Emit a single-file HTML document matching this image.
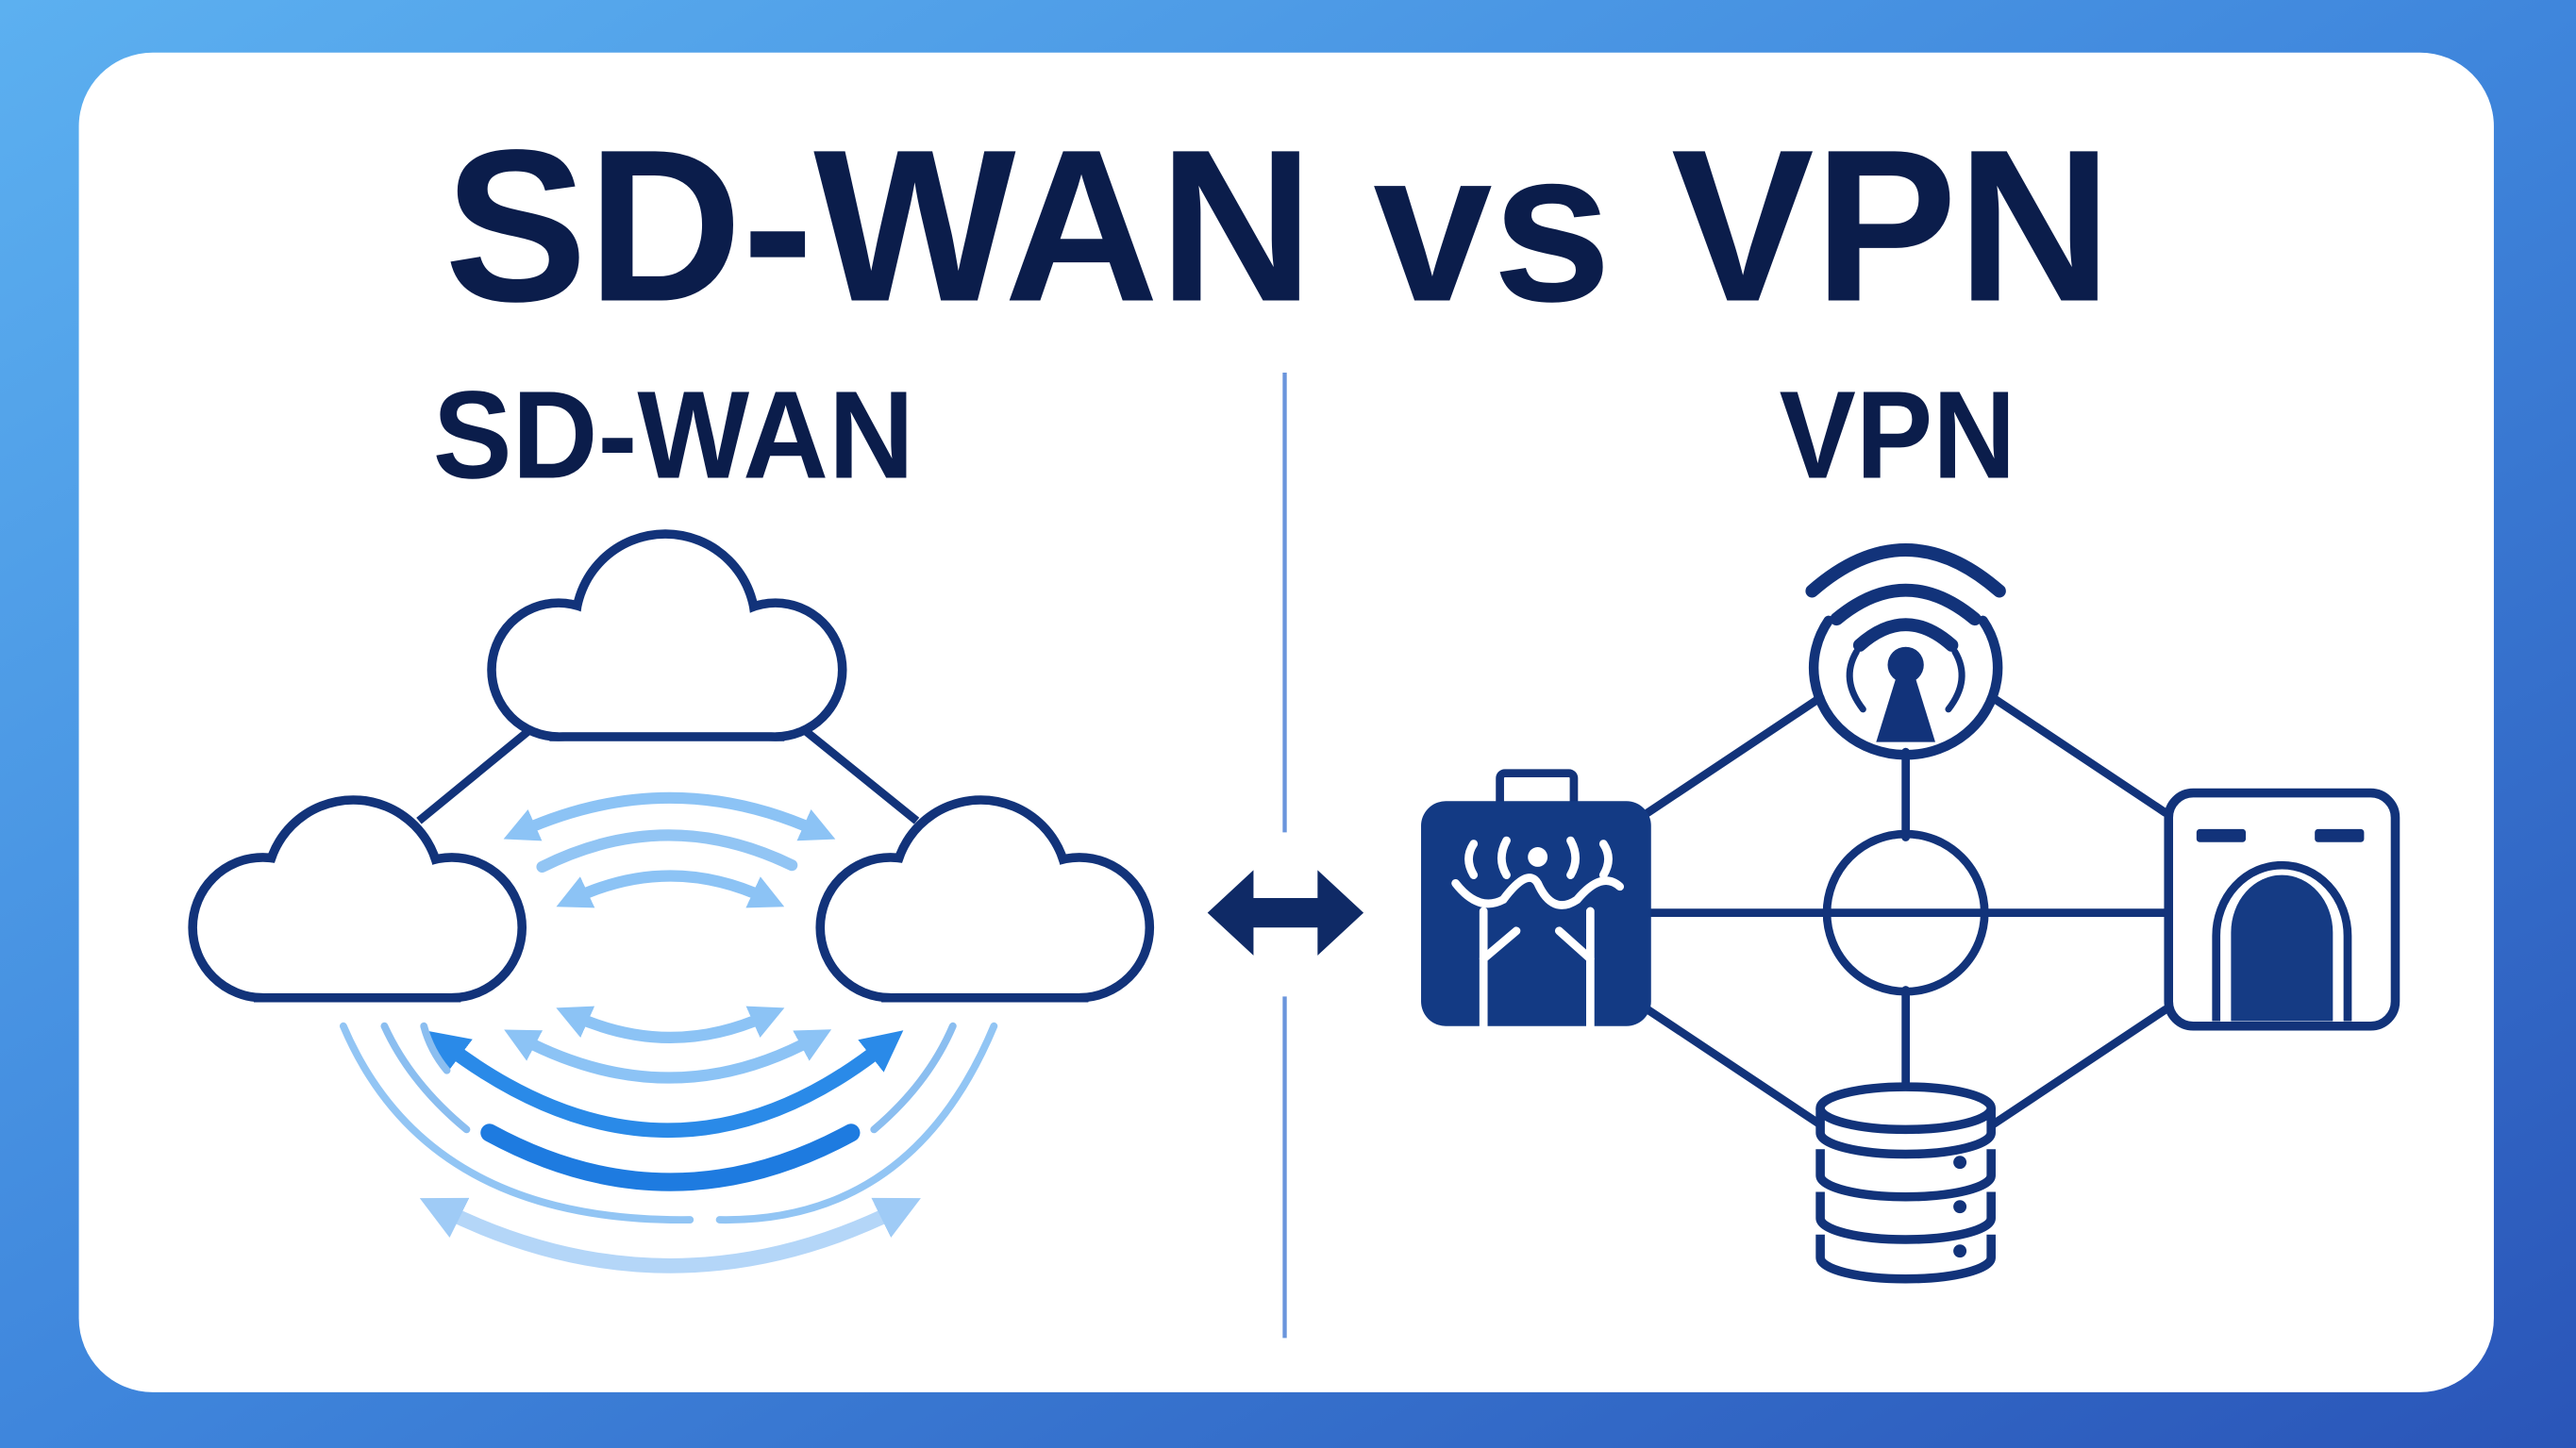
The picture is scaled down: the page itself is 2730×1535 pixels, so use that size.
<!DOCTYPE html>
<html><head><meta charset="utf-8"><style>
html,body{margin:0;padding:0;width:2730px;height:1535px;overflow:hidden}
svg{display:block}
</style></head><body>
<svg width="2730" height="1535" viewBox="0 0 1568 882" preserveAspectRatio="none" xmlns="http://www.w3.org/2000/svg">
<defs>
<linearGradient id="bg" x1="0" y1="0" x2="1" y2="1">
<stop offset="0" stop-color="#5cb0f0"/><stop offset="0.5" stop-color="#3f86dc"/><stop offset="1" stop-color="#2a55b8"/>
</linearGradient>
<marker id="ahL" viewBox="0 0 10 10" refX="4" refY="5" markerWidth="3" markerHeight="3" orient="auto-start-reverse">
<path d="M0,0 L10,5 L0,10 z" fill="#8cc3f5"/></marker>
<marker id="ahB" viewBox="0 0 10 10" refX="4" refY="5" markerWidth="2.8" markerHeight="2.8" orient="auto-start-reverse">
<path d="M0,0 L10,5 L0,10 z" fill="#2a8ae8"/></marker>
<marker id="ahP" viewBox="0 0 10 10" refX="4" refY="5" markerWidth="3" markerHeight="3" orient="auto-start-reverse">
<path d="M0,0 L10,5 L0,10 z" fill="#9fcbf6"/></marker>
<g id="cloudL">
<circle cx="160" cy="565" r="40"/><circle cx="275" cy="565" r="40"/><circle cx="215" cy="540" r="50"/><rect x="160" y="545" width="115" height="60"/>
</g>
<g id="cloudT">
<circle cx="340" cy="408" r="38"/><circle cx="472" cy="408" r="38"/><circle cx="405" cy="380" r="52"/><rect x="340" y="400" width="132" height="46"/>
</g>
</defs>
<rect width="1568" height="882" fill="url(#bg)"/>
<rect x="48" y="32" width="1470" height="816" rx="45" fill="#fff"/>

<text x="778" y="183" text-anchor="middle" font-family="Liberation Sans, sans-serif" font-weight="bold" font-size="132" fill="#0b1d4b" textLength="1015" lengthAdjust="spacingAndGlyphs">SD-WAN vs VPN</text>
<text x="410" y="291" text-anchor="middle" font-family="Liberation Sans, sans-serif" font-weight="bold" font-size="76" fill="#0b1d4b" textLength="293" lengthAdjust="spacingAndGlyphs">SD-WAN</text>
<text x="1155" y="291" text-anchor="middle" font-family="Liberation Sans, sans-serif" font-weight="bold" font-size="76" fill="#0b1d4b" textLength="144" lengthAdjust="spacingAndGlyphs">VPN</text>

<line x1="782" y1="227" x2="782" y2="507" stroke="#6a95dc" stroke-width="2.5"/>
<line x1="782" y1="607" x2="782" y2="815" stroke="#6a95dc" stroke-width="2.5"/>
<polygon points="735,556 763,530 763,547 802,547 802,530 830,556 802,582 802,565 763,565 763,582" fill="#0f2a66"/>

<g stroke="#12337a" stroke-width="5">
<line x1="322" y1="445" x2="255" y2="500"/>
<line x1="490" y1="445" x2="558" y2="500"/>
</g>
<g fill="#12337a" stroke="#12337a" stroke-width="11">
<use href="#cloudT"/><use href="#cloudL"/><use href="#cloudL" transform="translate(382,0)"/>
</g>
<g fill="#fff">
<use href="#cloudT"/><use href="#cloudL"/><use href="#cloudL" transform="translate(382,0)"/>
</g>

<g fill="none" stroke-linecap="round">
<path d="M318 506 Q408 466 497 506" stroke="#8cc3f5" stroke-width="7" marker-start="url(#ahL)" marker-end="url(#ahL)"/>
<path d="M330 528 Q406 490 482 527" stroke="#92c5f4" stroke-width="7"/>
<path d="M350 547 Q408 520 466 547" stroke="#8cc3f5" stroke-width="7" marker-start="url(#ahL)" marker-end="url(#ahL)"/>
<path d="M350 619 Q408 645 466 619" stroke="#8cc3f5" stroke-width="7" marker-start="url(#ahL)" marker-end="url(#ahL)"/>
<path d="M318 633 Q408 680 495 633" stroke="#8cc3f5" stroke-width="7" marker-start="url(#ahL)" marker-end="url(#ahL)"/>
<path d="M272 637 Q408 740 538 637" stroke="#2a8ae8" stroke-width="9" marker-start="url(#ahB)" marker-end="url(#ahB)"/>
<path d="M298 690 Q408 750 518 690" stroke="#1e7be0" stroke-width="11"/>
<path d="M209 625 Q260 745 420 743" stroke="#92c5f4" stroke-width="4.5"/>
<path d="M605 625 Q555 745 438 743" stroke="#92c5f4" stroke-width="4.5"/>
<path d="M234 625 Q250 660 284 688" stroke="#8bbef0" stroke-width="4.5"/>
<path d="M580 625 Q565 660 532 688" stroke="#8bbef0" stroke-width="4.5"/>
<path d="M258 625 Q262 640 272 652" stroke="#8bbef0" stroke-width="4.5"/>
<path d="M270 737 Q408 805 546 737" stroke="#b4d6f8" stroke-width="9" marker-start="url(#ahP)" marker-end="url(#ahP)"/>
</g>

<!-- VPN network -->
<g fill="none" stroke="#12337a" stroke-width="5" stroke-linecap="round">
<line x1="1003" y1="495" x2="1108" y2="425"/>
<line x1="1213" y1="425" x2="1318" y2="495"/>
<line x1="1003" y1="615" x2="1108" y2="685"/>
<line x1="1318" y1="615" x2="1213" y2="685"/>
<line x1="1005" y1="556" x2="1318" y2="556"/>
<line x1="1160" y1="458" x2="1160" y2="510"/>
<line x1="1160" y1="603" x2="1160" y2="662"/>
<circle cx="1160" cy="556" r="48"/>
<path d="M1113 378 A56 53 0 1 0 1207 378" stroke-width="6"/>
<path d="M1103 360 Q1160 310 1217 360" stroke-width="8"/>
<path d="M1118 377 Q1160 342 1202 377" stroke-width="8"/>
<path d="M1132 393 Q1160 368 1188 393" stroke-width="8"/>
<path d="M1130 397 Q1120 414 1134 432" stroke-width="4"/>
<path d="M1190 397 Q1200 414 1186 432" stroke-width="4"/>
</g>
<circle cx="1160" cy="405" r="11" fill="#12337a"/>
<polygon points="1155,410 1165,410 1178,452 1142,452" fill="#12337a"/>

<!-- left box -->
<rect x="913" y="471" width="45" height="20" rx="3" fill="#fff" stroke="#12337a" stroke-width="5"/>
<rect x="865" y="488" width="140" height="137" rx="15" fill="#133a84"/>
<g fill="none" stroke="#fff" stroke-width="5" stroke-linecap="round">
<path d="M886 538 Q900 556 915 548 Q930 528 936 538 Q945 558 960 548 Q975 530 986 540"/>
<path d="M903 555 L903 625 M968 555 L968 625"/>
<path d="M903 584 L923 567 M968 584 L949 567"/>
<path d="M897 514 Q891 523 897 533 M976 514 Q982 523 976 533"/>
<path d="M917 512 Q911 523 917 533 M956 512 Q962 523 956 533"/>
</g>
<circle cx="936" cy="522" r="6" fill="#fff"/>

<!-- right box -->
<g fill="none" stroke="#12337a">
<rect x="1320" y="483" width="138" height="142" rx="15" stroke-width="5.5"/>
<path d="M1349 622 L1349 570 A40 43 0 0 1 1429 570 L1429 622" stroke-width="5"/>
</g>
<rect x="1337" y="505" width="30" height="8" rx="2" fill="#12337a"/>
<rect x="1409" y="505" width="30" height="8" rx="2" fill="#12337a"/>
<path d="M1358 622 L1358 568 A31 35 0 0 1 1420 568 L1420 622 Z" fill="#153b84"/>

<!-- database -->
<g fill="#fff" stroke="#12337a" stroke-width="5.5">
<path d="M1108 752 L1108 766 A52 13 0 0 0 1212 766 L1212 752"/>
<path d="M1108 726 L1108 742 A52 13 0 0 0 1212 742 L1212 726"/>
<path d="M1108 700 L1108 716 A52 13 0 0 0 1212 716 L1212 700"/>
<path d="M1108 675 L1108 690 A52 13 0 0 0 1212 690 L1212 675"/>
<ellipse cx="1160" cy="675" rx="52" ry="13"/>
</g>
<circle cx="1193" cy="708" r="4" fill="#12337a"/>
<circle cx="1193" cy="735" r="4" fill="#12337a"/>
<circle cx="1193" cy="762" r="4" fill="#12337a"/>
</svg>
</body></html>
